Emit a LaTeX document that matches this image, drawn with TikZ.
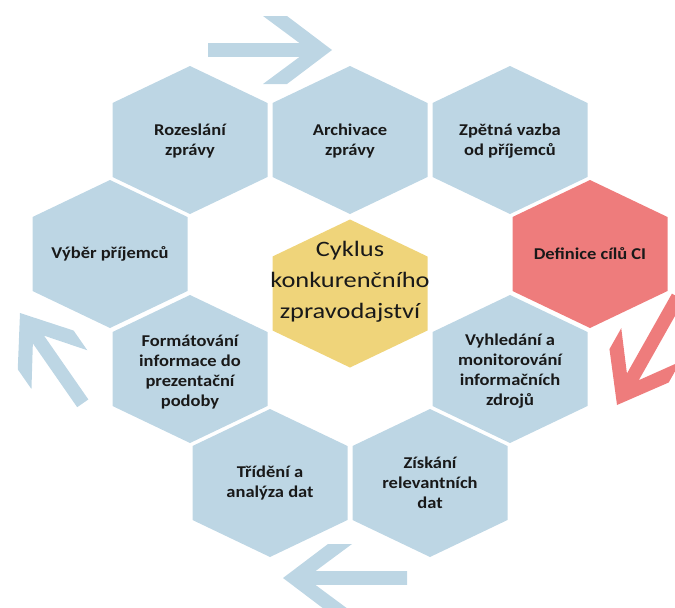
\documentclass[tikz,border=0pt]{standalone}
\usepackage{fontspec}
\setmainfont{Carlito}
\newfontfamily\lblfont[FakeStretch=1.12]{Carlito}
\newfontfamily\ctrfont[FakeStretch=1.2]{Carlito}
\definecolor{hexblue}{RGB}{189,214,228}
\definecolor{hexred}{RGB}{238,124,124}
\definecolor{hexyellow}{RGB}{239,212,122}
\definecolor{txt}{RGB}{25,25,25}
\newcommand\HexAt[3]{\fill[#1,shift={(#2,#3)}] (0,-74) -- (77.5,-37) -- (77.5,37) -- (0,74) -- (-77.5,37) -- (-77.5,-37) -- cycle;}
\newcommand\CycArrow[5]{\fill[#1,shift={(#2,#3)},rotate=#4] (0,0) -- (-45,34) -- (-69,34) -- (-32.3,6.8) -- (-#5,6.8) -- (-#5,-6.8) -- (-32.3,-6.8) -- (-69,-34) -- (-45,-34) -- cycle;}
\tikzset{
  lbl/.style={align=center, text=txt, inner sep=0pt, font=\lblfont\bfseries\fontsize{16.5}{20}\selectfont},
  ctr/.style={align=center, text=txt, inner sep=0pt, font=\ctrfont\fontsize{22}{31}\selectfont}
}
\begin{document}
\begin{tikzpicture}[x=1pt,y=-1pt]
\useasboundingbox (0,0) rectangle (675,608);
\clip (0,0) rectangle (675,608);
% arrows
\CycArrow{hexblue}{332}{50}{0}{124}
\CycArrow{hexred}{617}{405}{240.6}{124}
\CycArrow{hexblue}{283}{578}{180}{124}
\CycArrow{hexblue}{20}{313}{124.8}{110}
% hexagons
\HexAt{hexblue}{190}{140}
\HexAt{hexblue}{350}{140}
\HexAt{hexblue}{510}{140}
\HexAt{hexblue}{110}{254}
\HexAt{hexred}{590}{254}
\HexAt{hexblue}{190}{369}
\HexAt{hexblue}{510}{369}
\HexAt{hexblue}{270}{483}
\HexAt{hexblue}{430}{483}
\HexAt{hexyellow}{350}{293.5}
% labels
\node[lbl] (rozeslani) at (190,141) {Rozeslání\\zprávy};
\node[lbl] (archivace) at (350,141) {Archivace\\zprávy};
\node[lbl] (zpetna) at (510,141) {Zpětná vazba\\od příjemců};
\node[lbl] (vyber) at (110,254) {Výběr příjemců};
\node[lbl] (definice) at (590,254) {Definice cílů CI};
\node[lbl] (formatovani) at (190,372) {Formátování\\informace do\\prezentační\\podoby};
\node[lbl] (vyhledani) at (510,371) {Vyhledání a\\monitorování\\informačních\\zdrojů};
\node[lbl] (trideni) at (270,483) {Třídění a\\analýza dat};
\node[lbl] (ziskani) at (430,483) {Získání\\relevantních\\dat};
\node[ctr] (cyklus) at (350,282) {Cyklus\\konkurenčního\\zpravodajství};
\end{tikzpicture}
\end{document}
